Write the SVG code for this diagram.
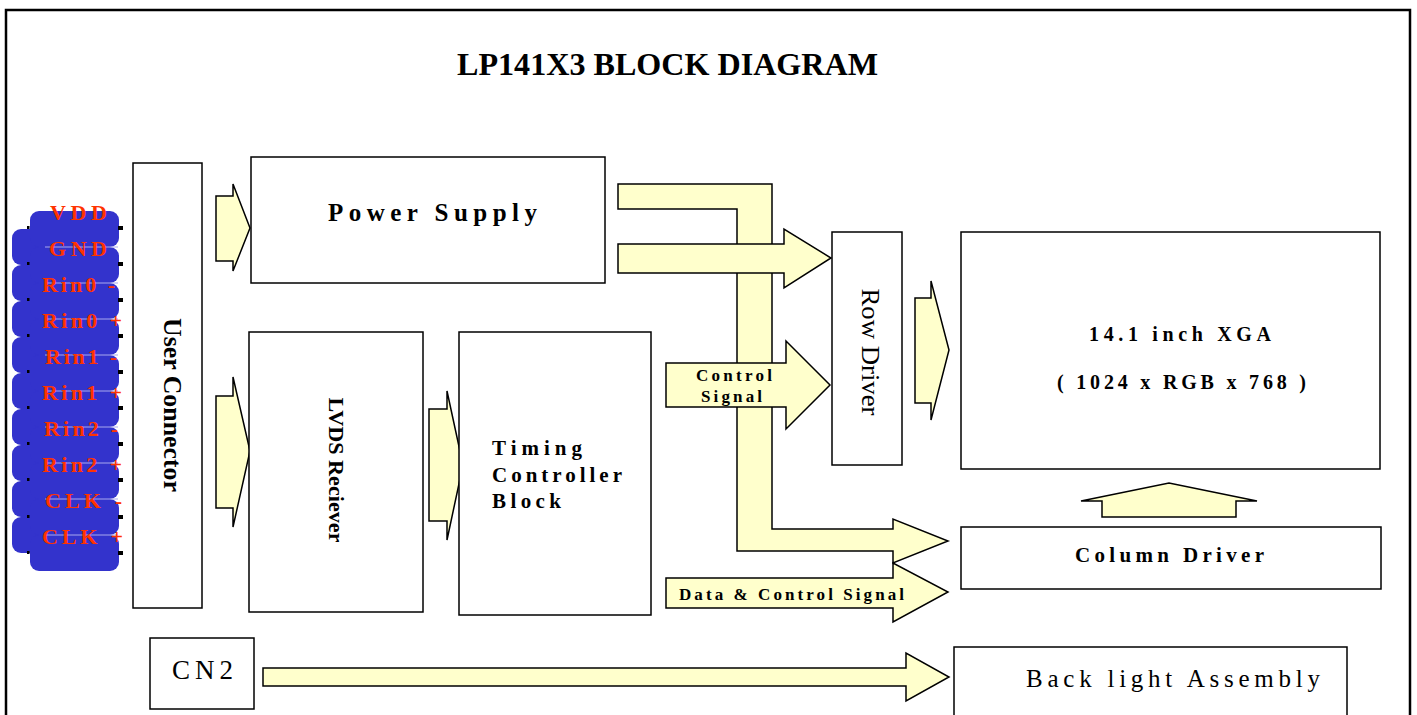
<svg xmlns="http://www.w3.org/2000/svg" width="1417" height="715" viewBox="0 0 1417 715">
<style>
.box{fill:#fff;stroke:#000;stroke-width:1.5}
.arr{fill:#ffffcc;stroke:#000;stroke-width:1.5;stroke-linejoin:miter}
.b{font-family:"Liberation Serif","Times New Roman",serif;font-weight:bold;fill:#000}
.r{font-family:"Liberation Serif","Times New Roman",serif;fill:#000}
.pin{font-family:"Liberation Serif","Times New Roman",serif;font-weight:bold;fill:#ff3300;font-size:22px}
.ln{stroke:#a9a9ee;stroke-width:1}
.pk{fill:#000}
</style>
<rect width="1417" height="715" fill="#fff"/>
<path d="M6,715 V10 H1410 V715" fill="none" stroke="#000" stroke-width="2.5"/>
<text id="title" class="b" x="457" y="75" font-size="32" textLength="421" lengthAdjust="spacingAndGlyphs">LP141X3 BLOCK DIAGRAM</text>

<g id="pins">
  <g fill="#3333cc">
    <rect x="12" y="229" width="60" height="36" rx="9"/>
    <rect x="12" y="265" width="60" height="36" rx="9"/>
    <rect x="12" y="301" width="60" height="36" rx="9"/>
    <rect x="12" y="337" width="60" height="36" rx="9"/>
    <rect x="12" y="373" width="60" height="36" rx="9"/>
    <rect x="12" y="409" width="60" height="36" rx="9"/>
    <rect x="12" y="445" width="60" height="36" rx="9"/>
    <rect x="12" y="481" width="60" height="36" rx="9"/>
    <rect x="12" y="517" width="60" height="36" rx="9"/>
    <rect x="30" y="211" width="89" height="36" rx="9"/>
    <rect x="30" y="247" width="89" height="36" rx="9"/>
    <rect x="30" y="283" width="89" height="36" rx="9"/>
    <rect x="30" y="319" width="89" height="36" rx="9"/>
    <rect x="30" y="355" width="89" height="36" rx="9"/>
    <rect x="30" y="391" width="89" height="36" rx="9"/>
    <rect x="30" y="427" width="89" height="36" rx="9"/>
    <rect x="30" y="463" width="89" height="36" rx="9"/>
    <rect x="30" y="499" width="89" height="36" rx="9"/>
    <rect x="30" y="535" width="89" height="36" rx="9"/>
  </g>
  <g class="ln">
    <line x1="45" y1="247" x2="118" y2="247"/>
    <line x1="45" y1="283" x2="118" y2="283"/>
    <line x1="45" y1="319" x2="118" y2="319"/>
    <line x1="45" y1="355" x2="118" y2="355"/>
    <line x1="45" y1="391" x2="118" y2="391"/>
    <line x1="45" y1="427" x2="118" y2="427"/>
    <line x1="45" y1="463" x2="118" y2="463"/>
    <line x1="45" y1="499" x2="118" y2="499"/>
    <line x1="45" y1="535" x2="118" y2="535"/>
  </g>
  <g class="pk">
    <rect x="118" y="226" width="5" height="4"/><rect x="118" y="262" width="5" height="4"/>
    <rect x="118" y="298" width="5" height="4"/><rect x="118" y="334" width="5" height="4"/>
    <rect x="118" y="370" width="5" height="4"/><rect x="118" y="406" width="5" height="4"/>
    <rect x="118" y="442" width="5" height="4"/><rect x="118" y="478" width="5" height="4"/>
    <rect x="118" y="515" width="5" height="4"/><rect x="118" y="551" width="5" height="4"/>
    <rect x="27" y="226" width="2.5" height="3"/><rect x="27" y="262" width="2.5" height="3"/>
    <rect x="27" y="298" width="2.5" height="3"/><rect x="27" y="334" width="2.5" height="3"/>
    <rect x="27" y="370" width="2.5" height="3"/><rect x="27" y="406" width="2.5" height="3"/>
    <rect x="27" y="442" width="2.5" height="3"/><rect x="27" y="478" width="2.5" height="3"/>
    <rect x="27" y="515" width="2.5" height="3"/><rect x="27" y="551" width="2.5" height="3"/>
  </g>
  <text class="pin" x="50" y="220" textLength="57" lengthAdjust="spacing">VDD</text>
  <text class="pin" x="49" y="256" textLength="58" lengthAdjust="spacing">GND</text>
  <text class="pin" x="42" y="292" textLength="73" lengthAdjust="spacing">Rin0 -</text>
  <text class="pin" x="42" y="328" textLength="80" lengthAdjust="spacing">Rin0 +</text>
  <text class="pin" x="45" y="364" textLength="72" lengthAdjust="spacing">Rin1 -</text>
  <text class="pin" x="42" y="400" textLength="80" lengthAdjust="spacing">Rin1 +</text>
  <text class="pin" x="44" y="436" textLength="74" lengthAdjust="spacing">Rin2 -</text>
  <text class="pin" x="42" y="472" textLength="80" lengthAdjust="spacing">Rin2 +</text>
  <text class="pin" x="45" y="508" textLength="77" lengthAdjust="spacing">CLK -</text>
  <text class="pin" x="42" y="544" textLength="81" lengthAdjust="spacing">CLK +</text>
</g>

<g id="connectors">
  <polygon class="arr" points="618,184 772,184 772,529 893,529 893,519 948,541 893,563 893,551 737,551 737,209 618,209"/>
  <polygon class="arr" points="618,244 784,244 784,229 831,258 784,288 784,273 618,273"/>
  <polygon class="arr" points="666,363 786,363 786,341 830,385 786,429 786,407 666,407"/>
  <polygon class="arr" points="666,578 893,578 893,563 948,592 893,622 893,608 666,608"/>
  <polygon class="arr" points="216,196 233,196 233,184 250,228 233,271 233,261 216,261"/>
  <polygon class="arr" points="216,396 233,396 233,377 250,451 233,527 233,508 216,508"/>
  <polygon class="arr" points="429,409 447,409 447,391 463,465 447,540 447,521 429,521"/>
  <polygon class="arr" points="915,298 931,298 931,281 949,350 931,420 931,403 915,403"/>
  <polygon class="arr" points="1102,517 1102,501 1081,501 1169,483 1257,501 1236,501 1236,517"/>
  <polygon class="arr" points="263,668 906,668 906,653 949,677 906,701 906,686 263,686"/>
  <text class="b" x="696" y="381" font-size="17" textLength="76" lengthAdjust="spacing">Control</text>
  <text class="b" x="701" y="402" font-size="17" textLength="61" lengthAdjust="spacing">Signal</text>
  <text class="b" x="679" y="600" font-size="17" textLength="225" lengthAdjust="spacing">Data &amp; Control Signal</text>
</g>

<g id="user-connector">
  <rect class="box" x="133" y="163" width="69" height="445"/>
  <text class="b" font-size="26" text-anchor="middle" transform="translate(164,405) rotate(90)" textLength="174" lengthAdjust="spacingAndGlyphs">User Connector</text>
</g>
<g id="power-supply">
  <rect class="box" x="251" y="157" width="354" height="126"/>
  <text class="b" x="328" y="221" font-size="25" textLength="209" lengthAdjust="spacing">Power Supply</text>
</g>
<g id="lvds">
  <rect class="box" x="249" y="332" width="174" height="280"/>
  <text class="b" font-size="22" text-anchor="middle" transform="translate(329,470) rotate(90)" textLength="145" lengthAdjust="spacingAndGlyphs">LVDS Reciever</text>
</g>
<g id="timing">
  <rect class="box" x="459" y="332" width="192" height="283"/>
  <text class="b" x="492" y="455" font-size="21" textLength="90" lengthAdjust="spacing">Timing</text>
  <text class="b" x="492" y="482" font-size="21" textLength="130" lengthAdjust="spacing">Controller</text>
  <text class="b" x="492" y="508" font-size="21" textLength="69" lengthAdjust="spacing">Block</text>
</g>
<g id="row-driver">
  <rect class="box" x="832" y="232" width="70" height="233"/>
  <text class="r" font-size="26" text-anchor="middle" transform="translate(862,352) rotate(90)" textLength="127" lengthAdjust="spacingAndGlyphs">Row Driver</text>
</g>
<g id="xga">
  <rect class="box" x="961" y="232" width="419" height="237"/>
  <text class="b" x="1089" y="341" font-size="20" textLength="182" lengthAdjust="spacing">14.1 inch XGA</text>
  <text class="b" x="1057" y="389" font-size="20" textLength="249" lengthAdjust="spacing">( 1024 x RGB x 768 )</text>
</g>
<g id="column-driver">
  <rect class="box" x="961" y="527" width="420" height="62"/>
  <text class="b" x="1075" y="562" font-size="21" textLength="189" lengthAdjust="spacing">Column Driver</text>
</g>
<g id="cn2">
  <rect class="box" x="150" y="638" width="104" height="71"/>
  <text class="r" x="172" y="679" font-size="27" textLength="61" lengthAdjust="spacing">CN2</text>
</g>
<g id="backlight">
  <rect class="box" x="954" y="647" width="393" height="80"/>
  <text class="r" x="1026" y="687" font-size="25" textLength="294" lengthAdjust="spacing">Back light Assembly</text>
</g>
</svg>
